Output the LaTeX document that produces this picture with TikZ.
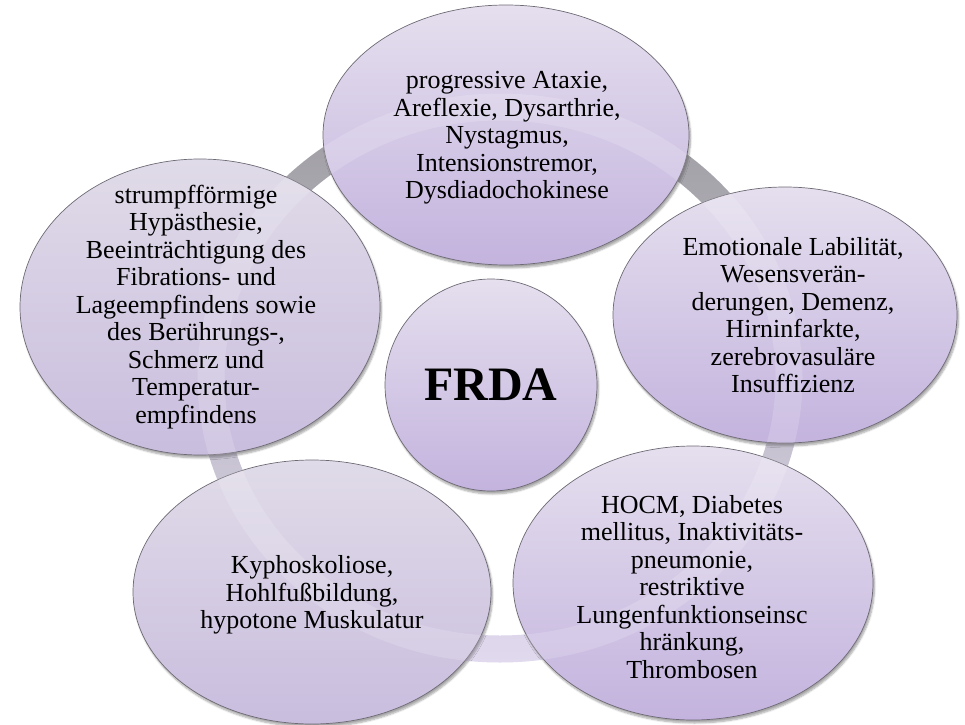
\documentclass[tikz,border=0pt]{standalone}
\usepackage{fontspec}
\setmainfont{Liberation Serif}
\usetikzlibrary{shapes.geometric,shadows.blur}
\definecolor{lavtop}{HTML}{E5DFEE}
\definecolor{lavbot}{HTML}{C3B3DE}
\definecolor{palett}{HTML}{E0DBE8}
\definecolor{palebot}{HTML}{C9BDDE}
\definecolor{ringtop}{HTML}{8A898E}
\definecolor{ringmid}{HTML}{CFC7DD}
\definecolor{ringbot}{HTML}{DCD3EC}
\definecolor{edge}{HTML}{6E6A74}
\tikzset{
  blob/.style={ellipse, draw=edge, line width=0.7pt, top color=lavtop, bottom color=lavbot,
    inner sep=0pt, blur shadow={shadow xshift=1.5pt, shadow yshift=-3pt, shadow blur steps=6, shadow opacity=35}},
  paleblob/.style={blob, top color=palett, bottom color=palebot},
  txt/.style={align=center, font=\fontsize{26}{27.5}\selectfont, inner sep=0pt},
}
\begin{document}
\begin{tikzpicture}[x=1pt,y=1pt]
\useasboundingbox (0,0) rectangle (965,724);
\coordinate (rc) at (500,346);
% ring
\shade[top color=ringtop, middle color=ringmid, bottom color=ringbot, even odd rule]
  (rc) ellipse [x radius=302.5, y radius=284.5] (rc) ellipse [x radius=275.5, y radius=257.5];
% ellipses
\node[blob, minimum width=366pt, minimum height=260pt] (top) at (506,589) {};
\node[paleblob, minimum width=360pt, minimum height=296pt] (left) at (200,417) {};
\node[blob, minimum width=344pt, minimum height=256pt] (right) at (785,409) {};
\node[paleblob, minimum width=358pt, minimum height=264pt] (bl) at (312,132) {};
\node[blob, minimum width=360pt, minimum height=274pt] (br) at (693,141) {};
\node[blob, circle, minimum size=212pt] (frda) at (491,339) {};
% faint ring seen through
\fill[white, opacity=0.16, even odd rule]
  (rc) ellipse [x radius=302.5, y radius=284.5] (rc) ellipse [x radius=275.5, y radius=257.5];
% texts
\node[txt] (topT) at (507,586) {progressive Ataxie,\\Areflexie, Dysarthrie,\\Nystagmus,\\Intensionstremor,\\Dysdiadochokinese};
\node[txt] (leftT) at (196,417) {strumpfförmige\\Hypästhesie,\\Beeinträchtigung des\\Fibrations- und\\Lageempfindens sowie\\des Berührungs-,\\Schmerz und\\Temperatur-\\empfindens};
\node[txt] (rightT) at (793,409) {Emotionale Labilität,\\Wesensverän-\\derungen, Demenz,\\Hirninfarkte,\\zerebrovasuläre\\Insuffizienz};
\node[txt] (blT) at (312,129) {Kyphoskoliose,\\Hohlfußbildung,\\hypotone Muskulatur};
\node[txt] (brT) at (692,137) {HOCM, Diabetes\\mellitus, Inaktivitäts-\\pneumonie,\\restriktive\\Lungenfunktionseinsc\\hränkung,\\Thrombosen};
\node[font=\bfseries\fontsize{48}{52}\selectfont, inner sep=0pt] (frdaT) at (frda) {FRDA};
\end{tikzpicture}
\end{document}
